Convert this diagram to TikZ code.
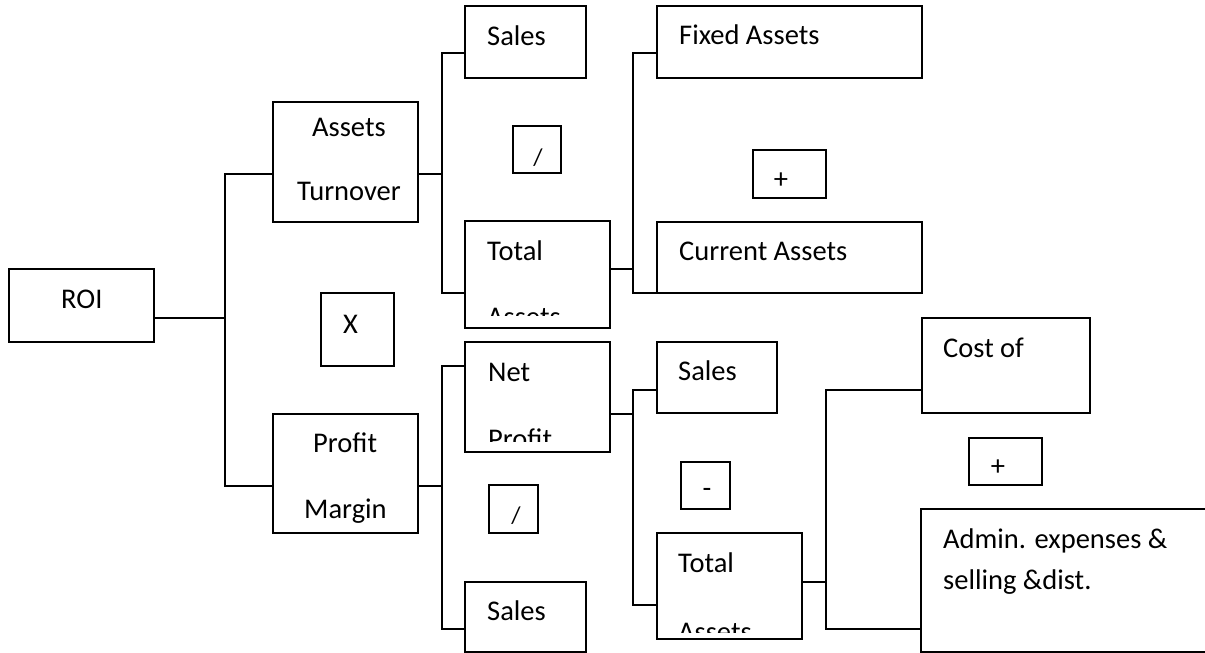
\documentclass[tikz,border=0pt]{standalone}
\usepackage{fontspec}
\setmainfont{Carlito}
\newcommand\boxnode[5]{\node[box, minimum width={#4-#2}, minimum height={#5-#3}] (#1) at ({(#2+#4)/2},{(#3+#5)/2}) {};}
\begin{document}
\begin{tikzpicture}[x=1pt,y=-1pt,
  box/.style={draw, line width=1.8pt, inner sep=0pt, outer sep=0pt, rectangle},
  conn/.style={line width=1.8pt},
  txt/.style={anchor=base west, inner sep=0pt, font=\fontsize{28.5}{34}\selectfont},
  sym/.style={anchor=center, inner sep=0pt, font=\fontsize{28.5}{34}\selectfont},
  slash/.style={anchor=center, inner sep=0pt, font=\fontsize{24}{28}\selectfont}]
\clip (0,0) rectangle (1205,653);
% boxes
\boxnode{roi}{9}{269}{154}{342}
\boxnode{at}{273}{102}{418}{222}
\boxnode{xop}{321}{293}{394}{366}
\boxnode{pm}{273}{414}{418}{533}
\boxnode{s1}{465}{6}{586}{78}
\boxnode{d1}{513}{126}{561}{173}
\boxnode{ta1}{465}{221}{610}{328}
\boxnode{fa}{657}{6}{922}{78}
\boxnode{p1}{753}{150}{826}{198}
\boxnode{ca}{657}{222}{922}{293}
\boxnode{np}{465}{342}{610}{452}
\boxnode{d2}{489}{485}{538}{533}
\boxnode{s2}{465}{582}{586}{652}
\boxnode{s3}{657}{342}{777}{413}
\boxnode{m1}{681}{462}{730}{509}
\boxnode{ta2}{657}{533}{802}{639}
\boxnode{co}{922}{318}{1090}{413}
\boxnode{p2}{969}{438}{1042}{485}
\boxnode{ad}{921}{509}{1220}{652}
% texts
\node[txt] (troi) at (61,308) {ROI};
\node[txt] (tat1) at (312,136) {Assets};
\node[txt] (tat2) at (297,200) {Turnover};
\node[txt] (tx) at (343,333) {X};
\begin{scope}
\clip (273,414) rectangle (418,523);
\node[txt] (tpm1) at (313,452) {Profit};
\node[txt] (tpm2) at (304,518) {Margin};
\end{scope}
\node[txt] (ts1) at (487,45) {Sales};
\node[slash] (td1) at (538,158) {/};
\begin{scope}
\clip (465,221) rectangle (610,315);
\node[txt] (tta1a) at (487,260) {Total};
\node[txt] (tta1b) at (487,326) {Assets};
\end{scope}
\node[txt] (tfa) at (679,44) {Fixed Assets};
\node[sym] (tp1) at (781,181) {+};
\node[txt] (tca) at (679,260) {Current Assets};
\begin{scope}
\clip (465,342) rectangle (610,441);
\node[txt] (tnp1) at (488,381) {Net};
\node[txt] (tnp2) at (488,448) {Profit};
\end{scope}
\node[slash] (td2) at (516,516) {/};
\node[txt] (ts2) at (487,620) {Sales};
\node[txt] (ts3) at (678,380) {Sales};
\node[sym] (tm1) at (707,493) {-};
\begin{scope}
\clip (657,533) rectangle (802,632);
\node[txt] (tta2a) at (678,572) {Total};
\node[txt] (tta2b) at (678,641) {Assets};
\end{scope}
\node[txt] (tco) at (943,357) {Cost of};
\node[sym] (tp2) at (998,468) {+};
\node[txt] (tad1) at (943,548) {Admin. expenses \&};
\node[txt] (tad2) at (943,589) {selling \&dist.};
% junction coordinates
\coordinate (j0) at (225,318);
\coordinate (j0a) at (225,174);
\coordinate (j0b) at (225,486);
\coordinate (j1) at (442,174);
\coordinate (j1a) at (442,53);
\coordinate (j1b) at (442,293);
\coordinate (j2) at (633,269);
\coordinate (j2a) at (633,53);
\coordinate (j2b) at (633,293);
\coordinate (j3) at (442,486);
\coordinate (j3a) at (442,366);
\coordinate (j3b) at (442,629);
\coordinate (j4) at (633,414);
\coordinate (j4a) at (633,390);
\coordinate (j4b) at (633,605);
\coordinate (j5) at (826,582);
\coordinate (j5a) at (826,390);
\coordinate (j5b) at (826,629);
% connectors
\draw[conn] (roi.east |- j0) -- (j0);
\draw[conn] (at.west |- j0a) -- (j0a) -- (j0b) -- (pm.west |- j0b);
\draw[conn] (at.east |- j1) -- (j1);
\draw[conn] (s1.west |- j1a) -- (j1a) -- (j1b) -- (ta1.west |- j1b);
\draw[conn] (ta1.east |- j2) -- (j2);
\draw[conn] (fa.west |- j2a) -- (j2a) -- (j2b) -- (ca.west |- j2b);
\draw[conn] (pm.east |- j3) -- (j3);
\draw[conn] (np.west |- j3a) -- (j3a) -- (j3b) -- (s2.west |- j3b);
\draw[conn] (np.east |- j4) -- (j4);
\draw[conn] (s3.west |- j4a) -- (j4a) -- (j4b) -- (ta2.west |- j4b);
\draw[conn] (ta2.east |- j5) -- (j5);
\draw[conn] (co.west |- j5a) -- (j5a) -- (j5b) -- (ad.west |- j5b);
\end{tikzpicture}
\end{document}
